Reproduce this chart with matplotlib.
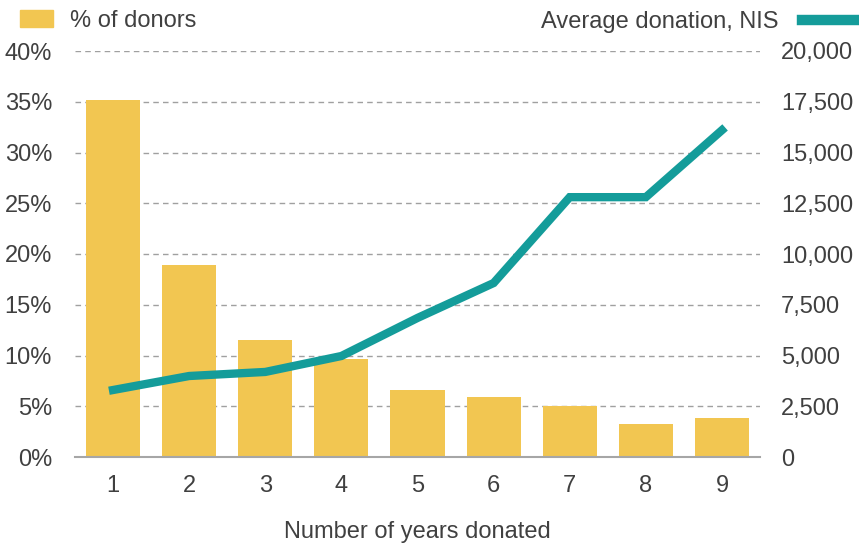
import matplotlib.pyplot as plt
from matplotlib.patches import Patch
from matplotlib.lines import Line2D
from matplotlib.ticker import FuncFormatter

plt.rcParams['font.family'] = ['Liberation Sans', 'DejaVu Sans']

years = [1, 2, 3, 4, 5, 6, 7, 8, 9]
pct_donors = [35.2, 18.9, 11.5, 9.65, 6.6, 5.9, 5.0, 3.25, 3.85]
avg_donation = [3300, 3990, 4190, 4975, 6850, 8570, 12800, 12800, 16100]

bar_col = '#F2C651'
line_col = '#149C9A'
txt_col = '#404040'
fs = 17

fig = plt.figure(figsize=(8.59, 5.44), dpi=100)
ax = fig.add_axes([75/859, 87/544, 685/859, 406/544])
ax2 = ax.twinx()

ax.bar(years, pct_donors, width=0.71, color=bar_col, zorder=2)
ax2.plot(years, avg_donation, color=line_col, lw=6, solid_joinstyle='miter', zorder=3)

ax.set_xlim(0.5, 9.5)
ax.set_ylim(0, 40)
ax2.set_ylim(0, 20000)
ax.set_yticks(range(0, 41, 5))
ax2.set_yticks(range(0, 20001, 2500))
ax.yaxis.set_major_formatter(FuncFormatter(lambda v, p: f'{v:.0f}%'))
ax2.yaxis.set_major_formatter(FuncFormatter(lambda v, p: f'{v:,.0f}'))
ax.set_xticks(years)

ax.grid(axis='y', linestyle=(0, (4, 3)), color='#A0A0A0', lw=1, zorder=0)
ax.set_axisbelow(True)

for a in (ax, ax2):
    for s in a.spines.values():
        s.set_visible(False)
    a.tick_params(length=0, labelsize=fs, colors=txt_col)
ax.spines['bottom'].set_visible(True)
ax.spines['bottom'].set_color('#A6A6A6')
ax.spines['bottom'].set_linewidth(1.5)
ax.tick_params(axis='x', pad=13)
ax.tick_params(axis='y', pad=16.5)
ax2.tick_params(axis='y', pad=15)

ax.set_xlabel('Number of years donated', fontsize=fs, color=txt_col, labelpad=17)

fig.legend(handles=[Patch(color=bar_col, label='% of donors')], loc='upper left',
           bbox_to_anchor=(20/859, 1 - 10/544), frameon=False, fontsize=fs,
           handlelength=1.4, handleheight=0.72, handletextpad=0.72,
           labelcolor=txt_col, borderaxespad=0, borderpad=0)
fig.legend(handles=[Line2D([], [], color=line_col, lw=7.5, label='Average donation, NIS')],
           loc='upper right', bbox_to_anchor=(856/859, 1 - 11/544), frameon=False, fontsize=fs,
           handlelength=2.3, handletextpad=1.0, markerfirst=False, labelcolor=txt_col,
           borderaxespad=0, borderpad=0)

fig.savefig('out.png', dpi=100)
